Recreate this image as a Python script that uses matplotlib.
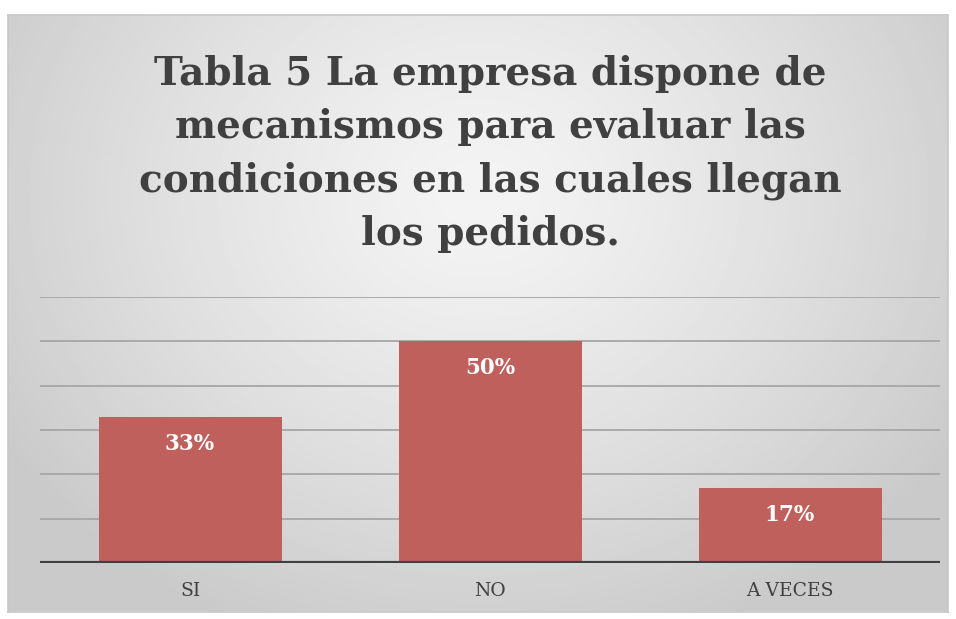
import numpy as np
import matplotlib
matplotlib.use("Agg")
import matplotlib.pyplot as plt

categories = ["SI", "NO", "A VECES"]
values = [0.33, 0.50, 0.17]
labels = ["33%", "50%", "17%"]
title = "Tabla 5 La empresa dispone de\nmecanismos para evaluar las\ncondiciones en las cuales llegan\nlos pedidos."

W, H = 956, 619
fig = plt.figure(figsize=(W / 100, H / 100), dpi=100, facecolor="white")

# background chart area with radial gradient
bx0, by0, bx1, by1 = 8, 15, 948, 612
bg = fig.add_axes([bx0 / W, 1 - by1 / H, (bx1 - bx0) / W, (by1 - by0) / H])
ny, nx = 300, 470
yy, xx = np.mgrid[0:ny, 0:nx]
cx, cy = nx * 0.5, ny * 0.3
r = np.sqrt(((xx - cx) / (nx * 0.6)) ** 2 + ((yy - cy) / (ny * 0.8)) ** 2)
r = np.clip(r, 0, 1)
light, dark = 0.955, 0.79
img = light - (light - dark) * r ** 1.3
bg.imshow(img, cmap="gray", vmin=0, vmax=1, aspect="auto", extent=[0, 1, 0, 1], interpolation="bilinear")
bg.set_xticks([]); bg.set_yticks([])
for s in bg.spines.values():
    s.set_color("#c8c8c8"); s.set_linewidth(1.2)

# plot axes
left, right, top, bottom = 40, 940, 297, 563
ax = fig.add_axes([left / W, 1 - bottom / H, (right - left) / W, (bottom - top) / H])
ax.patch.set_alpha(0)
x = np.arange(len(categories))
ax.set_xlim(-0.5, len(categories) - 0.5)
ax.set_ylim(0, 0.6)
for g in np.arange(0.1, 0.61, 0.1):
    ax.axhline(g, color="#a6a6a6", lw=1.3, zorder=0)
bars = ax.bar(x, values, width=0.61, color="#c0605d", zorder=2)
ax.axhline(0, color="#404040", lw=3, zorder=3)
for xi, v, lab in zip(x, values, labels):
    ax.annotate(lab, (xi, v), xytext=(0, -27), textcoords="offset pixels",
                ha="center", va="center", color="white", fontsize=15.5,
                fontweight="bold", family="DejaVu Serif", zorder=4)
ax.set_xticks(x)
ax.set_xticklabels(categories, family="DejaVu Serif", fontsize=13.5, color="#404040")
ax.tick_params(axis="x", length=0, pad=14)
ax.set_yticks([])
for s in ax.spines.values():
    s.set_visible(False)

fig.text(490 / W, 1 - 154 / H, title, ha="center", va="center", fontsize=28,
         fontweight="bold", family="DejaVu Serif", color="#404040", linespacing=1.5)

fig.savefig("out.png", dpi=100, facecolor="white")
